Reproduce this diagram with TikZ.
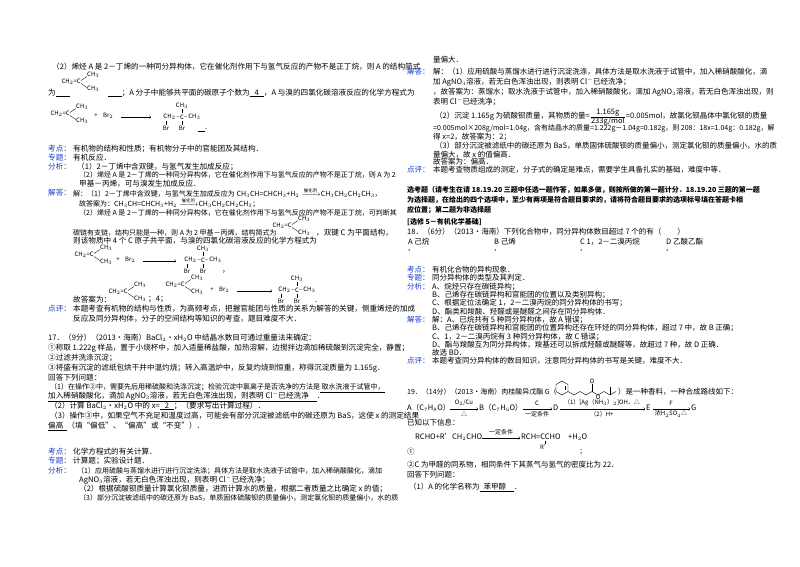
\documentclass[tikz,border=0pt]{standalone}
\usepackage{amsmath}
\usepackage{fontspec}
\setmainfont{Noto Sans CJK SC}
\begin{document}
\definecolor{lab}{RGB}{30,60,200}
\newcommand{\T}[3]{\node[anchor=west,inner sep=0pt] at (#1,#2) {#3};}
\newcommand{\Ts}[3]{\node[anchor=west,inner sep=0pt,font=\fontsize{7.0}{8}\selectfont] at (#1,#2) {#3};}
\newcommand{\B}[3]{\node[anchor=west,inner sep=0pt,font=\fontsize{7.0}{8}\selectfont\bfseries] at (#1,#2) {#3};}
\newcommand{\K}[3]{\node[anchor=west,inner sep=0pt,text=lab] at (#1,#2) {#3};}
\newcommand{\C}[3]{\node[inner sep=0pt,font=\fontsize{6}{7}\selectfont] at (#1,#2) {#3};}
\newcommand{\U}[1]{\underline{#1}}
\newcommand{\cat}{\xrightarrow{\raisebox{-1pt}{\fontsize{4.5}{5}\selectfont 催化剂}}}
\newcommand{\isob}[2]{%
 \node[anchor=east,inner sep=0pt,font=\fontsize{6}{7}\selectfont] at (#1+2,#2) {CH$_2$=C};
 \draw[line width=0.3pt] (#1+2,#2-1.5)--(#1+8,#2-5.5) (#1+2,#2+1.5)--(#1+8,#2+5.5);
 \node[anchor=west,inner sep=0pt,font=\fontsize{6}{7}\selectfont] at (#1+8,#2-7) {CH$_3$};
 \node[anchor=west,inner sep=0pt,font=\fontsize{6}{7}\selectfont] at (#1+8,#2+7) {CH$_3$};}
\newcommand{\prodd}[2]{%
 \node[anchor=east,inner sep=0pt,font=\fontsize{6}{7}\selectfont] at (#1-2,#2) {CH$_2$\,–};
 \node[inner sep=0pt,font=\fontsize{6}{7}\selectfont] at (#1,#2) {C};
 \node[anchor=west,inner sep=0pt,font=\fontsize{6}{7}\selectfont] at (#1+2,#2) {–\,CH$_3$};
 \node[inner sep=0pt,font=\fontsize{6}{7}\selectfont] at (#1,#2-11) {CH$_3$};
 \draw[line width=0.3pt] (#1,#2-4)--(#1,#2-8) (#1,#2+4)--(#1,#2+8) (#1-16,#2+4)--(#1-16,#2+8);
 \node[inner sep=0pt,font=\fontsize{6}{7}\selectfont] at (#1,#2+11) {Br};
 \node[inner sep=0pt,font=\fontsize{6}{7}\selectfont] at (#1-16,#2+11) {Br};}
\newcommand{\br}[3]{%
 \node[inner sep=0pt,font=\fontsize{6}{7}\selectfont] at (#1,#2) {+};
 \node[anchor=west,inner sep=0pt,font=\fontsize{6}{7}\selectfont] at (#1+7,#2) {Br$_2$};
 \draw[->,line width=0.3pt] (#1+25,#2+1)--(#1+25+#3,#2+1);}
\begin{tikzpicture}[x=1pt,y=-1pt,font=\fontsize{7.6}{8.5}\selectfont]
\fill[white] (0,0) rectangle (800,566);
\useasboundingbox (0,0) rectangle (800,566);
% ===== left column =====
\T{52}{67}{（2）烯烃 A 是 2－丁烯的一种同分异构体，它在催化剂作用下与氢气反应的产物不是正丁烷，则 A 的结构简式}
\isob{79}{82}
\T{48}{93}{为\U{\hspace{14pt}}\hspace{38pt}\U{\hspace{14pt}}；A 分子中能够共平面的碳原子个数为\U{\hspace{5pt}4\hspace{5pt}}，A 与溴的四氯化碳溶液反应的化学方程式为}
\isob{68}{114}
\br{96}{116}{30}
\prodd{182}{117}
\T{198}{130}{\U{\hspace{7pt}}.}
\K{48}{149}{考点：}\T{73}{149}{有机物的结构和性质；有机物分子中的官能团及其结构．}
\K{48}{158}{专题：}\T{73}{158}{有机反应．}
\K{48}{167}{分析：}\T{77}{167}{（1）2－丁烯中含双键，与氢气发生加成反应；}
\Ts{79}{175}{（2）烯烃 A 是 2－丁烯的一种同分异构体，它在催化剂作用下与氢气反应的产物不是正丁烷，则 A 为 2}
\T{79}{184}{甲基－丙烯，可与溴发生加成反应．}
\K{48}{193}{解答：}\Ts{73}{193}{解：（1）2－丁烯中含双键，与氢气发生加成反应为 CH$_3$CH=CHCH$_3$+H$_2\cat$CH$_3$CH$_2$CH$_2$CH$_3$，}
\Ts{79}{203}{故答案为：CH$_3$CH=CHCH$_3$+H$_2\cat$CH$_3$CH$_2$CH$_2$CH$_3$；}
\Ts{79}{213}{（2）烯烃 A 是 2－丁烯的一种同分异构体，它在催化剂作用下与氢气反应的产物不是正丁烷，可判断其}
\isob{290}{226}
\Ts{73}{233}{碳链有支链，结构只能是一种，则 A 为 2 甲基－丙烯，结构简式为}
\T{316}{233}{，双键 C 为平面结构，}
\T{73}{241}{则该物质中 4 个 C 原子共平面，与溴的四氯化碳溶液反应的化学方程式为}
\isob{92}{255}
\br{118}{260}{33}
\prodd{203}{260}
\T{222}{272}{，}
\T{73}{300}{故答案为：}
\isob{126}{292}
\T{148}{299}{；4；}
\isob{183}{285}
\br{212}{290}{35}
\prodd{297}{290}
\T{315}{302}{.}
\K{48}{309}{点评：}\T{73}{309}{本题考查有机物的结构与性质，为高频考点，把握官能团与性质的关系为解答的关键，侧重烯烃的加成}
\T{73}{319}{反应及同分异构体，分子的空间结构等知识的考查，题目难度不大．}
\T{48}{338}{17．（9分）（2013•海南）BaCl$_2$•xH$_2$O 中结晶水数目可通过重量法来确定：}
\T{48}{348}{①称取 1.222g 样品，置于小烧杯中，加入适量稀盐酸，加热溶解，边搅拌边滴加稀硫酸到沉淀完全，静置；}
\T{48}{358}{②过滤并洗涤沉淀；}
\T{48}{368}{③将盛有沉淀的滤纸包烘干并中温灼烧；转入高温炉中，反复灼烧到恒重，称得沉淀质量为 1.165g．}
\T{48}{378}{回答下列问题：}
\Ts{50}{388}{（1）在操作②中，需要先后用稀硫酸和洗涤沉淀；检验沉淀中氯离子是否洗净的方法是\U{\ 取水洗液于试管中，}}
\T{48}{397}{\U{加入稀硝酸酸化，滴加 AgNO$_3$溶液，若无白色浑浊出现，则表明 Cl$^-$已经洗净\hspace{8pt}}．}
\T{50}{406}{（2）计算 BaCl$_2$•xH$_2$O 中的 x=\U{\hspace{5pt}2\hspace{5pt}}；（要求写出计算过程）．}
\T{50}{416}{（3）操作③中，如果空气不充足和温度过高，可能会有部分沉淀被滤纸中的碳还原为 BaS，这使 x 的测定结果}
\T{48}{426}{\U{偏高\hspace{4pt}}（填“偏低”、“偏高”或“不变”）．}
\K{48}{452}{考点：}\T{73}{452}{化学方程式的有关计算．}
\K{48}{461}{专题：}\T{73}{461}{计算题；实验设计题．}
\K{48}{471}{分析：}\Ts{77}{471}{（1）应用硫酸与蒸馏水进行进行沉淀洗涤；具体方法是取水洗液于试管中，加入稀硝酸酸化，滴加}
\T{79}{480}{AgNO$_3$溶液，若无白色浑浊出现，则表明 Cl$^-$已经洗净；}
\T{79}{489}{（2）根据硫酸钡质量计算氯化钡质量，进而计算水的质量，根据二者质量之比确定 x 的值；}
\Ts{79}{498}{（3）部分沉淀被滤纸中的碳还原为 BaS，单质固体硫酸钡的质量偏小，测定氯化钡的质量偏小，水的质}
% ===== right column =====
\begin{scope}[font=\fontsize{7.5}{8}\selectfont]
\T{433}{60}{量偏大．}
\K{407}{72}{解答：}\T{433}{72}{解：（1）应用硫酸与蒸馏水进行进行沉淀洗涤，具体方法是取水洗液于试管中，加入稀硝酸酸化，滴}
\T{433}{82}{加 AgNO$_3$溶液，若无白色浑浊出现，则表明 Cl$^-$已经洗净；}
\T{433}{92}{，故答案为：蒸馏水；取水洗液于试管中，加入稀硝酸酸化，滴加 AgNO$_3$溶液，若无白色浑浊出现，则}
\T{433}{102}{表明 Cl$^-$已经洗净；}
\T{435}{117}{（2）沉淀 1.165g 为硫酸钡质量，其物质的量=$\frac{\mbox{1.165g}}{\mbox{233g/mol}}$=0.005mol，故氯化钡晶体中氯化钡的质量}
\Ts{433}{128}{=0.005mol×208g/mol=1.04g，含有结晶水的质量=1.222g－1.04g=0.182g，则 208：18x=1.04g：0.182g，解}
\T{433}{137}{得 x=2，故答案为：2；}
\T{435}{146}{（3）部分沉淀被滤纸中的碳还原为 BaS，单质固体硫酸钡的质量偏小，测定氯化钡的质量偏小，水的质}
\T{433}{155}{量偏大，故 x 的值偏高．}
\T{433}{162}{故答案为：偏高．}
\K{407}{170}{点评：}\T{433}{170}{本题考查物质组成的测定，分子式的确定是难点，需要学生具备扎实的基础，难度中等．}
\B{407}{190}{选考题（请考生在请 18.19.20 三题中任选一题作答，如果多做，则按所做的第一题计分．18.19.20 三题的第一题}
\B{407}{200}{为选择题，在给出的四个选项中，至少有两项是符合题目要求的，请将符合题目要求的选项标号填在答题卡相}
\B{407}{210}{应位置；第二题为非选择题}
\B{407}{222}{[选修 5－有机化学基础]}
\T{407}{232}{18．（6分）（2013•海南）下列化合物中，同分异构体数目超过 7 个的有（\hspace{16pt}）}
\T{408}{242}{A 己烷}\T{494}{242}{B 己烯}\T{580}{242}{C 1，2－二溴丙烷}\T{666}{242}{D 乙酸乙酯}
\T{408}{251}{,}\T{494}{251}{,}\T{580}{251}{,}\T{666}{251}{,}
\K{407}{270}{考点：}\T{432}{270}{有机化合物的异构现象．}
\K{407}{278}{专题：}\T{432}{278}{同分异构体的类型及其判定．}
\K{407}{287}{分析：}\T{432}{287}{A、烷烃只存在碳链异构；}
\T{432}{295}{B、己烯存在碳链异构和官能团的位置以及类别异构；}
\T{432}{303}{C、根据定位法确定 1，2－二溴丙烷的同分异构体的书写；}
\T{432}{312}{D、酯类和羧酸、羟醛或是醚醛之间存在同分异构体．}
\K{407}{320}{解答：}\T{432}{320}{解：A、已烷共有 5 种同分异构体，故 A 错误；}
\T{432}{328}{B、己烯存在碳链异构和官能团的位置异构还存在环烃的同分异构体，超过 7 中，故 B 正确；}
\T{432}{337}{C、1，2－二溴丙烷有 3 种同分异构体，故 C 错误；}
\T{432}{345}{D、酯与羧酸互为同分异构体，羧基还可以拆成羟醛或醚醛等，故超过 7 种，故 D 正确．}
\T{432}{353}{故选 BD．}
\K{407}{361}{点评：}\T{432}{361}{本题考查同分异构体的数目知识，注意同分异构体的书写是关键，难度不大．}
\Ts{407}{392}{19．（14分）（2013•海南）肉桂酸异戊酯 G（}
\begin{scope}[line width=0.4pt]
\draw (562,381)--(568,384.5)--(568,391.5)--(562,395)--(556,391.5)--(556,384.5)--cycle;
\draw (565,386)--(565,390);
\draw (568,391.5)--(574,395)--(580,391.5)--(586,395)--(592,391.5)--(598,395)--(604,391.5)--(610,395)--(616,391.5);
\draw (592,391.5)--(592,384);
\draw (610,395)--(610,387);
\end{scope}
\C{592}{381}{O}\C{598}{397}{O}
\T{618}{392}{）是一种香料，一种合成路线如下：}
\T{407}{408}{A（C$_7$H$_8$O）}
\draw[->,line width=0.3pt] (450,409)--(478,409);
\C{464}{403}{O$_2$/Cu}\C{464}{414}{△}
\T{479}{408}{B（C$_7$H$_6$O）}
\draw[->,line width=0.3pt] (523,409)--(552,409);
\C{537}{403}{C}\C{537}{414}{一定条件}
\T{553}{408}{D}
\draw[->,line width=0.3pt] (560,409)--(645,409);
\C{602}{403}{（1）[Ag（NH$_3$）$_2$]OH，△}\C{602}{414}{（2）H+}
\T{646}{408}{E}
\draw[->,line width=0.3pt] (653,409)--(690,409);
\C{671}{403}{F}\C{671}{414}{浓H$_2$SO$_4$△}
\T{691}{408}{G}
\T{407}{423}{已知以下信息：}
\T{415}{437}{RCHO+R'CH$_2$CHO}
\draw[->,line width=0.3pt] (482,438)--(520,438);
\C{501}{432}{一定条件}
\T{521}{437}{RCH=CCHO}
\draw[line width=0.3pt] (545,441)--(545,444);
\C{545}{447}{R'}
\T{568}{437}{+H$_2$O}
\T{407}{452}{①}\T{580}{452}{;}
\T{407}{465}{②C 为甲醛的同系物，相同条件下其蒸气与氢气的密度比为 22．}
\T{407}{475}{回答下列问题：}
\T{409}{487}{（1）A 的化学名称为\U{\hspace{4pt}苯甲醇\hspace{8pt}}．}
\end{scope}
\end{tikzpicture}
\end{document}
